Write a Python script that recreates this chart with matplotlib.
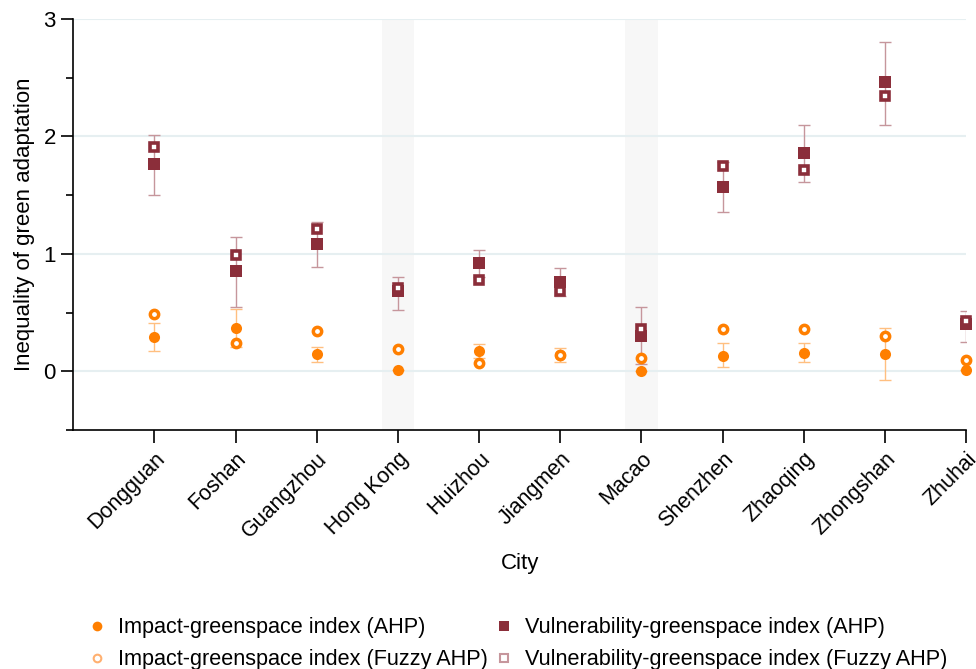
import numpy as np
import matplotlib
matplotlib.use("Agg")
import matplotlib.pyplot as plt
from matplotlib.lines import Line2D

plt.rcParams['font.family'] = ['Liberation Sans', 'DejaVu Sans']

cities = ["Dongguan", "Foshan", "Guangzhou", "Hong Kong", "Huizhou", "Jiangmen",
          "Macao", "Shenzhen", "Zhaoqing", "Zhongshan", "Zhuhai"]
shaded = ["Hong Kong", "Macao"]

# Impact-greenspace index
impact_ahp = [0.29, 0.37, 0.145, 0.01, 0.17, 0.14, 0.00, 0.13, 0.16, 0.15, 0.01]
impact_ahp_lo = [0.17, 0.21, 0.08, 0.01, 0.11, 0.08, 0.00, 0.04, 0.08, -0.07, 0.01]
impact_ahp_hi = [0.41, 0.53, 0.21, 0.01, 0.23, 0.20, 0.00, 0.24, 0.24, 0.37, 0.01]
impact_fuzzy = [0.49, 0.24, 0.34, 0.19, 0.07, 0.14, 0.11, 0.36, 0.36, 0.30, 0.10]

# Vulnerability-greenspace index
vuln_ahp = [1.76, 0.85, 1.08, 0.68, 0.92, 0.76, 0.30, 1.57, 1.86, 2.46, 0.40]
vuln_ahp_lo = [1.50, 0.55, 0.89, 0.52, 0.80, 0.64, 0.06, 1.36, 1.61, 2.10, 0.25]
vuln_ahp_hi = [2.01, 1.14, 1.27, 0.80, 1.03, 0.88, 0.55, 1.78, 2.10, 2.80, 0.51]
vuln_fuzzy = [1.91, 0.99, 1.21, 0.71, 0.78, 0.68, 0.36, 1.75, 1.71, 2.34, 0.43]

orange = "#ff7f00"
maroon = "#8b2e3a"

fig = plt.figure(figsize=(9.76, 6.69), dpi=100)
ax = fig.add_axes([0.075, 0.357, 0.915, 0.615])

x = np.arange(1, len(cities) + 1)

for c in shaded:
    i = cities.index(c) + 1
    ax.axvspan(i - 0.2, i + 0.2, color="#f7f7f7", zorder=0, lw=0)

for v in [0, 1, 2, 3]:
    ax.axhline(v, color="#e6eff1", lw=1.5, zorder=0.5)

# error bars
ax.errorbar(x, vuln_ahp, yerr=[np.array(vuln_ahp) - vuln_ahp_lo, np.array(vuln_ahp_hi) - vuln_ahp],
            fmt="none", ecolor="#c6969c", elinewidth=1, capsize=4.3, capthick=1, zorder=2)
ax.errorbar(x, impact_ahp, yerr=[np.array(impact_ahp) - impact_ahp_lo, np.array(impact_ahp_hi) - impact_ahp],
            fmt="none", ecolor="#ffbf80", elinewidth=1, capsize=4.3, capthick=1, zorder=2)

ax.plot(x, impact_ahp, "o", color=orange, ms=8, mew=0, zorder=3, clip_on=False)
ax.plot(x, impact_fuzzy, "o", mfc="white", mec=orange, mew=2.5, ms=6, zorder=4, clip_on=False)
ax.plot(x, vuln_ahp, "s", color=maroon, ms=8.4, mew=0, zorder=3, clip_on=False)
ax.plot(x, vuln_fuzzy, "s", mfc="white", mec=maroon, mew=2.6, ms=5.9, zorder=4, clip_on=False)

ax.set_xlim(0, 11)
ax.set_ylim(-0.5, 3)
ax.set_xticks(x)
ax.set_xticklabels(cities, rotation=45, ha="right", rotation_mode="anchor", fontsize=15.5)
ax.set_yticks([0, 1, 2, 3])
ax.set_yticks([-0.5, 0.5, 1.5, 2.5], minor=True)
ax.tick_params(axis="y", which="major", length=9, width=1.2, labelsize=16)
ax.tick_params(axis="y", which="minor", length=5, width=1.2)
ax.tick_params(axis="x", length=9, width=1.2, pad=4)

for s in ["top", "right"]:
    ax.spines[s].set_visible(False)
for s in ["left", "bottom"]:
    ax.spines[s].set_linewidth(1.2)

ax.set_xlabel("City", fontsize=16, labelpad=8)
ax.set_ylabel("Inequality of green adaptation", fontsize=16, labelpad=6)

handles = [
    Line2D([], [], ls="none", marker="o", color=orange, ms=7, mew=0),
    Line2D([], [], ls="none", marker="o", mfc="white", mec="#ffb070", mew=1.5, ms=5.5),
    Line2D([], [], ls="none", marker="s", color=maroon, ms=7, mew=0),
    Line2D([], [], ls="none", marker="s", mfc="white", mec="#c6969c", mew=1.5, ms=5.5),
]
labels = ["Impact-greenspace index (AHP)", "Impact-greenspace index (Fuzzy AHP)",
          "Vulnerability-greenspace index (AHP)", "Vulnerability-greenspace index (Fuzzy AHP)"]
fig.legend(handles, labels, ncol=2, loc="lower left", bbox_to_anchor=(0.072, -0.031),
           frameon=False, fontsize=15.6, handlelength=0.7, handletextpad=0.6,
           columnspacing=0.4, labelspacing=0.5)

fig.savefig("out.png", dpi=100)
